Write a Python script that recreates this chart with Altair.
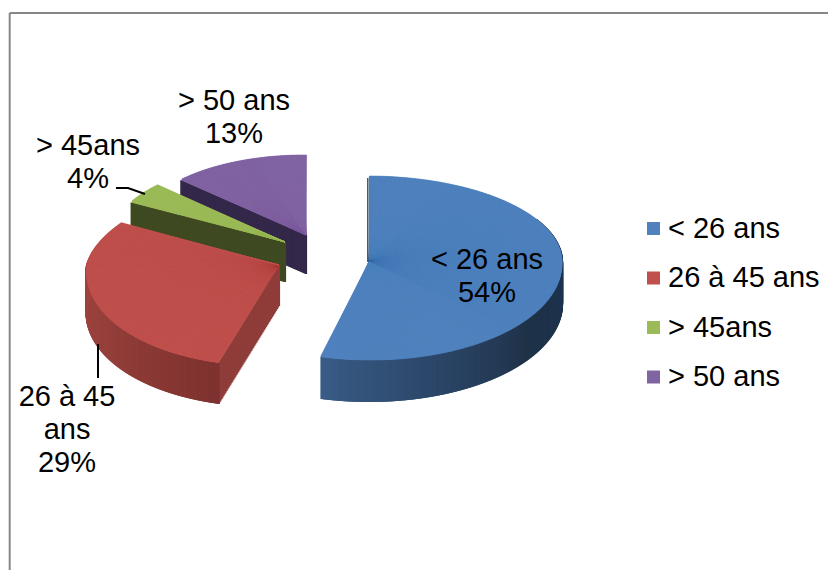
import math
import numpy as np
import pandas as pd
import altair as alt

# --- values
categories = ["< 26 ans", "26 à 45 ans", "> 45ans", "> 50 ans"]
shares = [54, 29, 4, 13]
top_colors = ["#4F81BD", "#C0504D", "#9BBB59", "#8064A2"]
edge_colors = ["#3A5C86", "#8F3D3A", "#3F4A22", "#34284A"]
label_texts = ["< 26 ans\n54%", "26 à 45\nans\n29%", "> 45ans\n4%", "> 50 ans\n13%"]
label_x = [487, 67, 88, 234]
label_y = [260, 397, 146, 101]

# --- look of the tilted pie (apex, half axes, thickness)
apex_x = [369, 279, 285, 306]
apex_y = [262, 265, 242, 235]
rx_front = [193, 192, 175, 171]
rx_back = [193, 167, 175, 171]
ry_front = [98, 101, 82, 80]
ry_back = [86, 85, 82, 80]
shear = [0, 13, 0, 0]
depth = [42, 41, 40, 39]
OFF = 8  # page margin


def rim(i, t):
    c, s = math.cos(t), math.sin(t)
    rx = rx_front[i] if c <= 0 else rx_front[i] + (rx_back[i] - rx_front[i]) * c
    ry = ry_front[i] if c <= 0 else ry_back[i]
    dx = rx * s + (shear[i] * c if c < 0 else 0)
    dy = -ry * c
    return dx, dy


starts = np.cumsum([0] + shares[:-1]) * 3.6
ends = np.cumsum(shares) * 3.6


def wedges(i):
    rows = []
    grid = np.arange(starts[i], ends[i] + 0.25, 0.25)
    grid[-1] = min(grid[-1], ends[i])
    for n, (a, b) in enumerate(zip(grid[:-1], grid[1:])):
        ax, ay = rim(i, math.radians(a))
        bx, by = rim(i, math.radians(b))
        p0 = math.degrees(math.atan2(ax, -ay)) % 360
        p1 = math.degrees(math.atan2(bx, -by)) % 360
        if p1 < p0:
            p1 += 360
        if n < len(grid) - 2:
            p1 += 0.6  # overlap the next wedge so no seam shows
        r = (math.hypot(ax, ay) + math.hypot(bx, by)) / 2
        rows.append(dict(cx=apex_x[i] - OFF, cy=apex_y[i] - OFF,
                         a0=p0 / 3.6, a1=p1 / 3.6, r=r))
    return pd.DataFrame(rows)


def wall_rows(i, a, b, stops, cols):
    rows = []
    rgb = np.array([[int(c[j:j + 2], 16) for j in (1, 3, 5)] for c in cols], float)
    for t in np.arange(a, b, 0.25):
        dx, dy = rim(i, math.radians(t))
        col = [np.interp(t, stops, rgb[:, k]) for k in range(3)]
        rows.append(dict(x=apex_x[i] + dx - OFF, y=apex_y[i] + dy - OFF,
                         y2=apex_y[i] + dy + depth[i] - OFF,
                         c="#%02x%02x%02x" % tuple(int(v) for v in col)))
    return rows


def cut_rows(i, t, col):
    dx, dy = rim(i, math.radians(t))
    n = int(abs(dx)) + 1
    return [dict(x=apex_x[i] + dx * k / n - OFF, y=apex_y[i] + dy * k / n - OFF,
                 y2=apex_y[i] + dy * k / n + depth[i] - OFF, c=col)
            for k in range(n + 1)]


walls = [
    wall_rows(0, 60, ends[0], [60, 90, 125, 160, 194.4],
              ["#1F3550", "#1F3550", "#203349", "#2C4769", "#3A5C86"]),
    cut_rows(1, starts[1], edge_colors[1]) +
    wall_rows(1, starts[1], 285, [194.4, 205, 240, 270, 285],
              ["#7E3330", "#843632", "#96403C", "#A04440", "#A04440"]),
    cut_rows(2, starts[2], edge_colors[2]),
    cut_rows(3, starts[3], edge_colors[3]),
]

X = lambda f: alt.X(f, type="quantitative", scale=None, axis=None)
Y = lambda f: alt.Y(f, type="quantitative", scale=None, axis=None)

layers = []
for i in [3, 2, 1, 0]:
    layers.append(alt.Chart(pd.DataFrame(walls[i])).mark_rule(strokeWidth=2.2).encode(
        x=X("x"), y=Y("y"), y2="y2:Q", color=alt.Color("c:N", scale=None, legend=None)))
    layers.append(alt.Chart(wedges(i)).mark_arc(
        color=top_colors[i], stroke=top_colors[i], strokeWidth=0.3).encode(
        x=X("cx"), y=Y("cy"),
        theta=alt.Theta("a0:Q", scale=alt.Scale(domain=[0, 100], range=[0, 2 * math.pi])),
        theta2="a1:Q",
        radius=alt.Radius("r:Q", scale=alt.Scale(type="linear", domain=[0, 300], range=[0, 300]))))

# thin dark back edge of the blue slice
layers.append(alt.Chart(pd.DataFrame([dict(x=367.8 - OFF, y=178 - OFF, y2=262 - OFF)]))
              .mark_rule(color="#1F3349", strokeWidth=1.2)
              .encode(x=X("x"), y=Y("y"), y2="y2:Q"))

# leader lines
lead = pd.DataFrame([
    dict(g="a", x=116 - OFF, y=188 - OFF, o=0),
    dict(g="a", x=128 - OFF, y=188 - OFF, o=1),
    dict(g="a", x=145 - OFF, y=194 - OFF, o=2),
    dict(g="b", x=98 - OFF, y=344 - OFF, o=0),
    dict(g="b", x=98 - OFF, y=378 - OFF, o=1),
])
layers.append(alt.Chart(lead).mark_line(color="#000000", strokeWidth=2).encode(
    x=X("x"), y=Y("y"), detail="g:N", order="o:Q"))

# frame (top and left only are inside the picture)
frame = pd.DataFrame([dict(x=1.7, x2=820, y=5, y2=5), dict(x=1.7, x2=1.7, y=5, y2=562)])
layers.append(alt.Chart(frame).mark_rule(color="#868686", strokeWidth=2).encode(
    x=X("x"), x2="x2:Q", y=Y("y"), y2="y2:Q"))

# data labels
lab = pd.DataFrame(dict(t=label_texts, x=[v - OFF for v in label_x], y=[v - OFF for v in label_y]))
layers.append(alt.Chart(lab).mark_text(
    font="Liberation Sans", fontSize=29, lineBreak="\n", lineHeight=33,
    align="center", baseline="middle", color="#000000").encode(
    x=X("x"), y=Y("y"), text="t:N"))

# legend
leg = pd.DataFrame(dict(k=categories, x=[-50] * 4, y=[-50] * 4))
layers.append(alt.Chart(leg).mark_point(filled=True, size=0, clip=True).encode(
    x=X("x"), y=Y("y"),
    color=alt.Color("k:N", sort=categories,
                    scale=alt.Scale(domain=categories, range=top_colors),
                    legend=alt.Legend(
                        title=None, orient="none", legendX=631, legendY=206,
                        symbolType="square", symbolSize=169, symbolStrokeWidth=0,
                        symbolOpacity=1, labelFont="Liberation Sans", labelFontSize=29,
                        labelColor="#000000", labelOffset=0, rowPadding=19.5,
                        padding=0, labelLimit=300))))

chart = alt.layer(*layers).resolve_scale(color="independent").properties(
    width=820, height=562, padding=0, background="#FFFFFF",
    autosize=alt.AutoSizeParams(type="none"),
).configure_view(stroke=None)

chart.save("out.html", embed_options={"renderer": "svg", "actions": False})
